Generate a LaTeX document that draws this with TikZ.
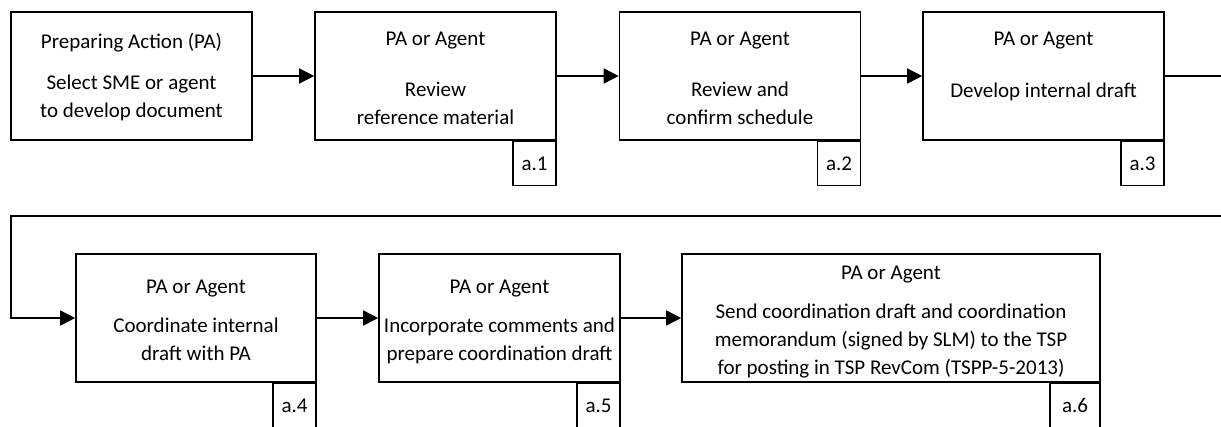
\documentclass[tikz,border=0pt]{standalone}
\usepackage{fontspec}
\setmainfont{Carlito}
\usetikzlibrary{arrows.meta}

\begin{document}
\begin{tikzpicture}[x=1pt, y=-1pt, line width=1.6pt,
  stepbox/.style={draw, rectangle, minimum width=241pt, minimum height=128pt, inner sep=0pt},
  tagbox/.style={draw, rectangle, minimum width=43pt, minimum height=44pt, inner sep=0pt,
    anchor=north east, font=\fontsize{21}{28}\selectfont},
  txt/.style={anchor=base, inner sep=0pt, font=\fontsize{21}{28}\selectfont},
  flow/.style={-{Triangle[length=15pt,width=15pt]}}]

\clip (0,0) rectangle (1221,426);

%% Erste Reihe %%%%%%%%%%%%%%%%%%%%%%%
\node[stepbox] (b1) at (131.5,76) {};
\node[txt] (b1h) at (131.5,48) {Preparing Action (PA)};
\node[txt] (b1t) at (131.5,89) {
  \begin{tabular}[t]{@{}c@{}}
    Select SME or agent\\ to develop document
  \end{tabular}};

\node[stepbox] (b2) at (435.5,76) {};
\node[tagbox] (a1) at (b2.south east) {a.1};
\node[txt] (b2h) at (435.5,45) {PA or Agent};
\node[txt] (b2t) at (435.5,96) {
  \begin{tabular}[t]{@{}c@{}}
    Review\\ reference material
  \end{tabular}};

\node[stepbox] (b3) at (740,76) {};
\node[tagbox] (a2) at (b3.south east) {a.2};
\node[txt] (b3h) at (740,45) {PA or Agent};
\node[txt] (b3t) at (740,96) {
  \begin{tabular}[t]{@{}c@{}}
    Review and\\ confirm schedule
  \end{tabular}};

\node[stepbox] (b4) at (1043.5,76) {};
\node[tagbox] (a3) at (b4.south east) {a.3};
\node[txt] (b4h) at (1043.5,45) {PA or Agent};
\node[txt] (b4t) at (1043.5,97) {Develop internal draft};

%% Zweite Reihe %%%%%%%%%%%%%%%%%%%%%%%
\node[stepbox, minimum width=240pt] (b5) at (196,318) {};
\node[tagbox] (a4) at (b5.south east) {a.4};
\node[txt] (b5h) at (196,293) {PA or Agent};
\node[txt] (b5t) at (196,332) {
  \begin{tabular}[t]{@{}c@{}}
    Coordinate internal\\ draft with PA
  \end{tabular}};

\node[stepbox] (b6) at (499.5,318) {};
\node[tagbox] (a5) at (b6.south east) {a.5};
\node[txt] (b6h) at (499.5,293) {PA or Agent};
\node[txt] (b6t) at (499.5,332) {
  \begin{tabular}[t]{@{}c@{}}
    Incorporate comments and\\ prepare coordination draft
  \end{tabular}};

\node[stepbox, minimum width=418pt] (b7) at (891,318) {};
\node[tagbox, minimum width=50pt] (a6) at (b7.south east) {a.6};
\node[txt] (b7h) at (891,279) {PA or Agent};
\node[txt] (b7t) at (891,318) {
  \begin{tabular}[t]{@{}c@{}}
    Send coordination draft and coordination\\
    memorandum (signed by SLM) to the TSP\\
    for posting in TSP RevCom (TSPP-5-2013)
  \end{tabular}};

%% Pfeile
\coordinate (r1) at (1235,76);
\coordinate (r2) at (1235,216);
\coordinate (l1) at (11,216);

\draw[flow] (b1) -- (b2);
\draw[flow] (b2) -- (b3);
\draw[flow] (b3) -- (b4);
\draw[flow] (b4.east) -- (r1) -- (r2) -- (l1) |- (b5.west);
\draw[flow] (b5) -- (b6);
\draw[flow] (b6) -- (b7);

\end{tikzpicture}
\end{document}
